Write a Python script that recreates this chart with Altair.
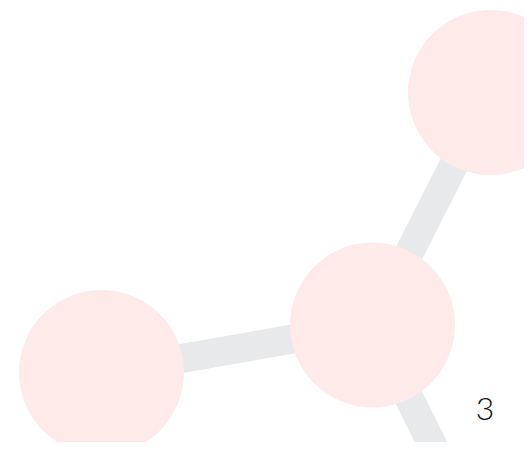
import altair as alt
import pandas as pd

# node positions (page pixel coordinates)
node_x = [101.5, 372.5, 490.5]
node_y = [372.5, 325.0, 92.5]

# edges: start / end points
edge_x1 = [101.5, 372.5, 372.5]
edge_y1 = [372.5, 325.0, 325.0]
edge_x2 = [372.5, 490.5, 460.0]
edge_y2 = [325.0, 92.5, 500.0]

label_x = [485.0]
label_y = [410.0]
label_text = ["3"]

nodes = pd.DataFrame({"x": node_x, "y": node_y})
edges = pd.DataFrame({"x": edge_x1, "y": edge_y1, "x2": edge_x2, "y2": edge_y2})
labels = pd.DataFrame({"x": label_x, "y": label_y, "t": label_text})

W, H = 516, 434
xs = alt.Scale(domain=[8, 8 + W], nice=False, zero=False)
ys = alt.Scale(domain=[8, 8 + H], nice=False, zero=False, reverse=True)
noax = None

e = alt.Chart(edges).mark_rule(strokeWidth=29, color="#e8e9ea", strokeCap="butt").encode(
    x=alt.X("x:Q", scale=xs, axis=noax),
    y=alt.Y("y:Q", scale=ys, axis=noax),
    x2="x2:Q",
    y2="y2:Q",
)
n = alt.Chart(nodes).mark_circle(size=27225, color="#fdeae9", opacity=1).encode(
    x=alt.X("x:Q", scale=xs, axis=noax),
    y=alt.Y("y:Q", scale=ys, axis=noax),
)
t = alt.Chart(labels).mark_text(font="Lato", fontSize=32, fontWeight=300, color="#111111",
                                 align="center", baseline="middle").encode(
    x=alt.X("x:Q", scale=xs, axis=noax),
    y=alt.Y("y:Q", scale=ys, axis=noax),
    text="t:N",
)

chart = alt.layer(e, n, t).properties(
    width=W, height=H, padding=0, autosize=alt.AutoSizeParams(type="none"),
    background="white",
).configure_view(stroke=None)

chart.save("out.html", embed_options={"renderer": "svg", "actions": False})
